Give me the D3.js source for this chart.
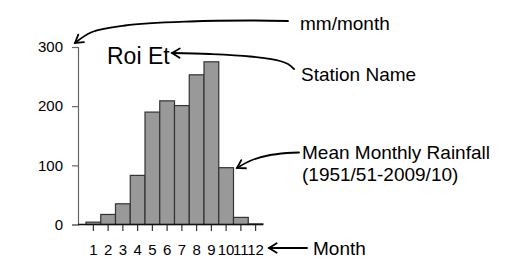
<!DOCTYPE html>
<html>
<head>
<meta charset="utf-8">
<script src="https://cdn.jsdelivr.net/npm/d3@7"></script>
<style>
  body { margin: 0; background: #fff; }
  text { font-family: "Liberation Sans", Arial, sans-serif; fill: #000; }
</style>
</head>
<body>
<svg width="516" height="260"></svg>
<script>
// Chart data
const months = ["1", "2", "3", "4", "5", "6", "7", "8", "9", "10", "11", "12"];
const rainfall = [4, 17, 35, 83, 190, 209, 201, 253, 275, 96, 12, 1];
const yTicks = [0, 100, 200, 300];

const station = "Roi Et";
const unitLabel = "mm/month";
const nameLabel = "Station Name";
const seriesLabel = ["Mean Monthly Rainfall", "(1951/51-2009/10)"];
const monthLabel = "Month";

const svg = d3.select("svg");

// Scales
const xScale = d3.scaleBand().domain(months).range([86, 263]).padding(0);
const yScale = d3.scaleLinear().domain([0, 300]).range([224.5, 47]);

// Y axis
const yAxis = svg.append("g")
  .attr("class", "y-axis")
  .attr("transform", "translate(78,0)")
  .call(d3.axisLeft(yScale).tickValues(yTicks).tickSize(6).tickPadding(9));
yAxis.selectAll("path, line").style("stroke", "#666").style("stroke-width", 1.2);
yAxis.selectAll("text").style("font-size", "15px").style("fill", "#000")
  .style("font-family", "'Liberation Sans', Arial, sans-serif");

// Bars
svg.append("g").selectAll("rect")
  .data(rainfall)
  .enter()
  .append("rect")
  .attr("x", (d, i) => xScale(months[i]))
  .attr("y", d => yScale(d))
  .attr("width", xScale.bandwidth())
  .attr("height", d => yScale(0) - yScale(d))
  .style("fill", "#999")
  .style("stroke", "#333")
  .style("stroke-width", 1.2);

// Baseline
svg.append("line")
  .attr("x1", 78).attr("x2", xScale.range()[1])
  .attr("y1", yScale(0)).attr("y2", yScale(0))
  .style("stroke", "#111").style("stroke-width", 1.4);

// X axis (ticks only)
const xAxis = svg.append("g")
  .attr("class", "x-axis")
  .attr("transform", `translate(0,${yScale(0) + 0.5})`)
  .call(d3.axisBottom(xScale).tickSize(6).tickPadding(13));
xAxis.select(".domain").remove();
xAxis.selectAll("line").style("stroke", "#333").style("stroke-width", 1.2);
xAxis.selectAll("text").style("font-size", "15px").style("fill", "#000")
  .style("font-family", "'Liberation Sans', Arial, sans-serif");

// Texts
svg.append("text").attr("x", 107).attr("y", 64).style("font-size", "23px").text(station);
svg.append("text").attr("x", 300).attr("y", 30).style("font-size", "19px").text(unitLabel);
svg.append("text").attr("x", 301).attr("y", 81).style("font-size", "19px").text(nameLabel);
svg.append("text").attr("x", 302).attr("y", 159).style("font-size", "19px").text(seriesLabel[0]);
svg.append("text").attr("x", 302).attr("y", 181).style("font-size", "19px").text(seriesLabel[1]);
svg.append("text").attr("x", 313).attr("y", 255).style("font-size", "19px").text(monthLabel);

// Annotation arrows, tip first
const arrows = [
  [[75, 43], [92, 32], [125, 25.5], [190, 21.5], [250, 20.5], [288, 21]],
  [[172, 53], [210, 54], [250, 56.5], [280, 61], [288, 64], [294, 69]],
  [[237, 168], [251, 160.5], [268, 155.5], [287, 153], [299, 152.5]],
  [[269, 248], [307, 248]]
];

const line = d3.line().curve(d3.curveCatmullRom.alpha(0.5));

arrows.forEach(pts => {
  const p = svg.append("path")
    .attr("d", line(pts))
    .style("fill", "none")
    .style("stroke", "#000")
    .style("stroke-width", 1.8)
    .style("stroke-linecap", "round");
  // chevron head from the path direction near the tip
  const node = p.node();
  const q = node.getPointAtLength(Math.min(7, node.getTotalLength()));
  const ang = Math.atan2(q.y - pts[0][1], q.x - pts[0][0]);
  const len = 9, spread = 0.55;
  const a1 = [pts[0][0] + len * Math.cos(ang - spread), pts[0][1] + len * Math.sin(ang - spread)];
  const a2 = [pts[0][0] + len * Math.cos(ang + spread), pts[0][1] + len * Math.sin(ang + spread)];
  svg.append("path")
    .attr("d", d3.line()([a1, pts[0], a2]))
    .style("fill", "none")
    .style("stroke", "#000")
    .style("stroke-width", 1.8)
    .style("stroke-linecap", "round")
    .style("stroke-linejoin", "miter");
});
</script>
</body>
</html>
